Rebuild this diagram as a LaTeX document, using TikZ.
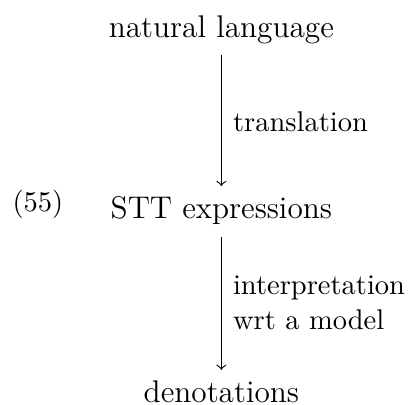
\documentclass[tikz,border=0pt]{standalone}
\begin{document}
\begin{tikzpicture}[x=1pt,y=-1pt,
  big/.style={font=\fontsize{11}{13}\selectfont, inner sep=0pt, outer sep=0pt,
              text height=7.6pt, text depth=2.1pt, anchor=base},
  lbl/.style={font=\normalsize, inner sep=0pt, outer sep=0pt, anchor=base west},
  arr/.style={->, line width=0.4pt}]
  \useasboundingbox (0,0) rectangle (145.3,142.1);

  % the three levels
  \node[big] (nl)  at (77.7,13.0)  {natural language};
  \node[big] (stt) at (77.7,76.8)  {STT expressions};
  \node[big] (den) at (77.7,141.4) {denotations};

  % example number
  \node[lbl] (num) at (4.4,74.2) {(55)};

  % mappings between levels
  \draw[arr, shorten <=4.2pt, shorten >=3.9pt] (nl) -- (stt);
  \draw[arr, shorten <=4.3pt, shorten >=4.0pt] (stt) -- (den);

  % labels of the mappings
  \node[lbl] (tr)  at (81.8,46.0)  {translation};
  \node[lbl] (int) at (81.8,103.5) {interpretation};
  \node[lbl] (wrt) at (81.8,115.8) {wrt a model};
\end{tikzpicture}
\end{document}
